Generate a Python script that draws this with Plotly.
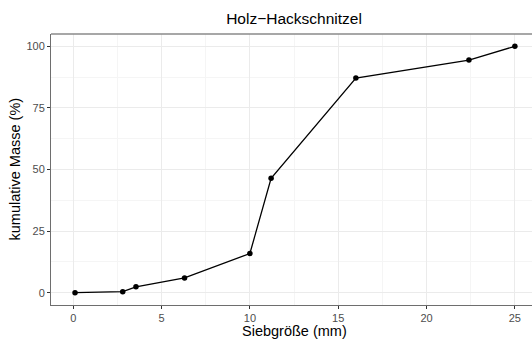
import plotly.graph_objects as go

sieve_mm = [0.1, 2.8, 3.55, 6.3, 10, 11.2, 16, 22.4, 25]
cum_mass = [0, 0.4, 2.4, 6.0, 15.9, 46.4, 87.1, 94.4, 100]
x_ticks = [0, 5, 10, 15, 20, 25]
y_ticks = [0, 25, 50, 75, 100]

W, H = 532, 340
L, R, T, B = 51, 0, 34, 35

fig = go.Figure()
fig.add_trace(go.Scatter(
    x=sieve_mm, y=cum_mass, mode="lines+markers",
    line=dict(color="black", width=1.3),
    marker=dict(color="black", size=5.5),
    showlegend=False, cliponaxis=False,
))

axis_common = dict(
    showline=True, linecolor="#6e6e6e", linewidth=1, mirror=False,
    ticks="outside", ticklen=3, tickcolor="#333333", tickwidth=1,
    gridcolor="#EBEBEB", gridwidth=1, zeroline=False,
    tickfont=dict(size=11, color="#4D4D4D"),
)

fig.update_layout(
    width=W, height=H,
    margin=dict(l=L, r=R, t=T, b=B),
    paper_bgcolor="white", plot_bgcolor="white",
    font=dict(family="Liberation Sans, Arial, sans-serif", color="black"),
    title=dict(text="Holz−Hackschnitzel", x=294 / W, xanchor="center",
               y=1 - 19 / H, yanchor="middle", font=dict(size=15.5)),
    xaxis=dict(range=[-1.26, 25.97], tickvals=x_ticks,
               minor=dict(dtick=2.5, tick0=0, showgrid=True, gridcolor="#F5F5F5", ticks=""),
               **axis_common),
    yaxis=dict(range=[-5, 105], tickvals=y_ticks,
               minor=dict(dtick=12.5, tick0=0, showgrid=True, gridcolor="#F5F5F5", ticks=""),
               **axis_common),
    shapes=[dict(type="line", xref="paper", yref="paper", x0=0, x1=1, y0=1, y1=1,
                 line=dict(color="#8a8a8a", width=1.5))],
    annotations=[
        dict(text="Siebgröße (mm)", xref="paper", yref="paper",
             x=(294 - L) / (W - L - R), y=-(331 - (H - B)) / (H - T - B),
             xanchor="center", yanchor="middle", showarrow=False,
             font=dict(size=14.5)),
        dict(text="kumulative Masse (%)", xref="paper", yref="paper",
             x=-(L - 14) / (W - L - R), y=((H - B) - 169.5) / (H - T - B),
             xanchor="center", yanchor="middle", showarrow=False, textangle=-90,
             font=dict(size=14.5)),
    ],
)

fig.write_html("out.html")
